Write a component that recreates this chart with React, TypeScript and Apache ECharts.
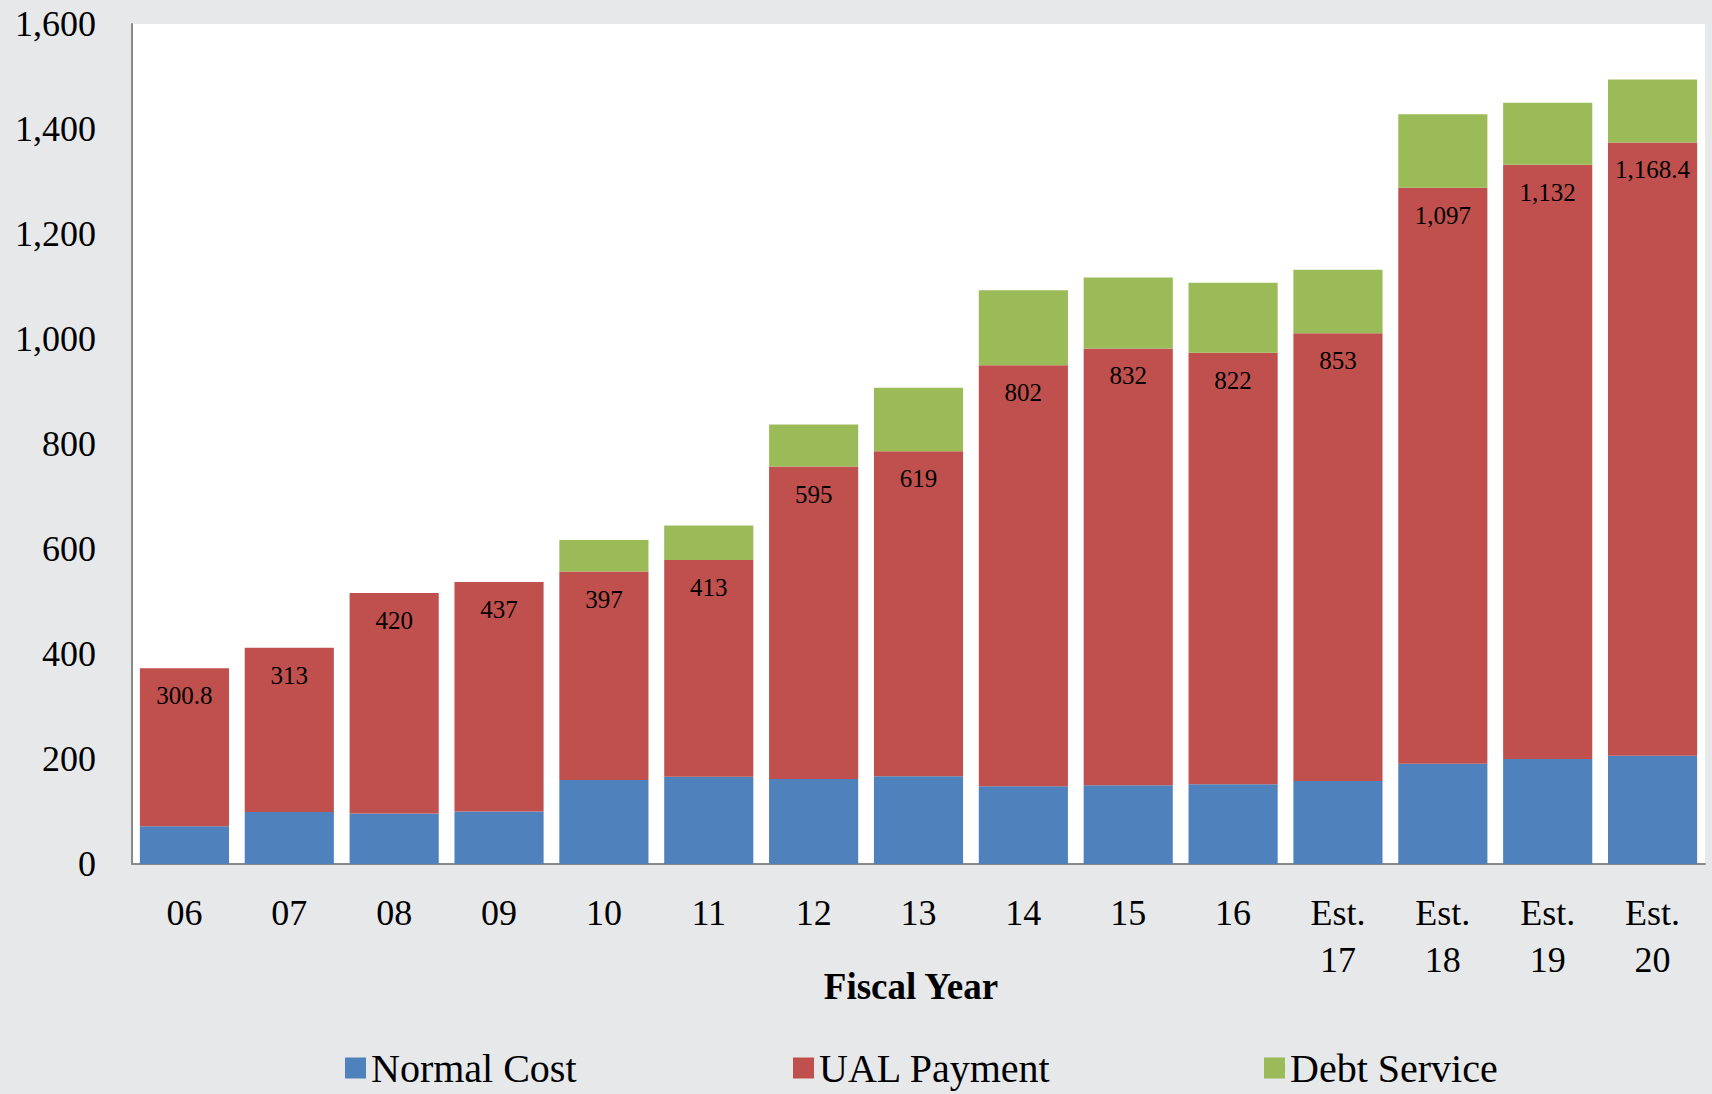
import React, { useEffect, useRef } from "react";
import * as echarts from "echarts";

const categories = ["06", "07", "08", "09", "10", "11", "12", "13", "14", "15", "16", "Est.\n17", "Est.\n18", "Est.\n19", "Est.\n20"];
const normalCost = [72, 99, 96, 100, 160, 166, 162, 167, 148, 150, 152, 158, 191, 200, 206];
const ualPayment = [300.8, 313, 420, 437, 397, 413, 595, 619, 802, 832, 822, 853, 1097, 1132, 1168.4];
const debtService = [null, null, null, null, 60, 66, 80, 121, 143, 135, 133, 121, 140, 118, 120];
const yTicks = { min: 0, max: 1600, interval: 200 };

const FONT = "'Palatino Linotype', 'Book Antiqua', Palatino, 'Liberation Serif', serif";
const fmt = (v: number) => v.toLocaleString("en-US", { maximumFractionDigits: 1 });

export default function App() {
  const ref = useRef<HTMLDivElement>(null);
  useEffect(() => {
    const chart = echarts.init(ref.current!, null, { renderer: "svg" });
    const legendCommon = {
      top: 1043,
      itemWidth: 21,
      itemHeight: 21,
      icon: "rect",
      itemGap: 5,
      textStyle: { fontFamily: FONT, fontSize: 40, color: "#000" },
      selectedMode: false,
    };
    chart.setOption({
      animation: false,
      backgroundColor: "#e6e8ea",
      grid: {
        left: 132,
        top: 24,
        right: 7,
        bottom: 230,
        show: true,
        backgroundColor: "#ffffff",
        borderWidth: 0,
      },
      legend: [
        { ...legendCommon, left: 340, data: ["Normal Cost"] },
        { ...legendCommon, left: 788, data: ["UAL Payment"] },
        { ...legendCommon, left: 1259, data: ["Debt Service"] },
      ],
      xAxis: {
        type: "category",
        data: categories,
        axisLine: { lineStyle: { color: "#8a8a8a", width: 2 } },
        axisTick: { show: false },
        axisLabel: {
          fontFamily: FONT,
          fontSize: 36,
          color: "#000",
          lineHeight: 47,
          margin: 25,
          interval: 0,
        },
      },
      yAxis: {
        type: "value",
        min: yTicks.min,
        max: yTicks.max,
        interval: yTicks.interval,
        splitLine: { show: false },
        axisLine: { show: true, lineStyle: { color: "#8a8a8a", width: 2 } },
        axisTick: { show: false },
        axisLabel: {
          fontFamily: FONT,
          fontSize: 36,
          color: "#000",
          margin: 36,
          formatter: (v: number) => fmt(v),
        },
      },
      graphic: [
        {
          type: "text",
          x: 911,
          y: 986,
          style: {
            text: "Fiscal Year",
            fontFamily: FONT,
            fontSize: 37,
            fontWeight: "bold",
            fill: "#000",
            textAlign: "center",
            textVerticalAlign: "middle",
          },
        },
      ],
      series: [
        {
          name: "Normal Cost",
          type: "bar",
          stack: "total",
          data: normalCost,
          barCategoryGap: "15%",
          itemStyle: { color: "#4f81bd" },
        },
        {
          name: "UAL Payment",
          type: "bar",
          stack: "total",
          data: ualPayment,
          itemStyle: { color: "#c0504d" },
          label: {
            show: true,
            position: "insideTop",
            distance: 15,
            fontFamily: FONT,
            fontSize: 25,
            color: "#000",
            formatter: (p: any) => fmt(p.value),
          },
        },
        {
          name: "Debt Service",
          type: "bar",
          stack: "total",
          data: debtService,
          itemStyle: { color: "#9bbb59" },
        },
      ],
    });
    return () => chart.dispose();
  }, []);
  return (
    <div
      ref={ref}
      style={{ position: "fixed", left: 0, top: 0, width: 1712, height: 1094 }}
    />
  );
}
